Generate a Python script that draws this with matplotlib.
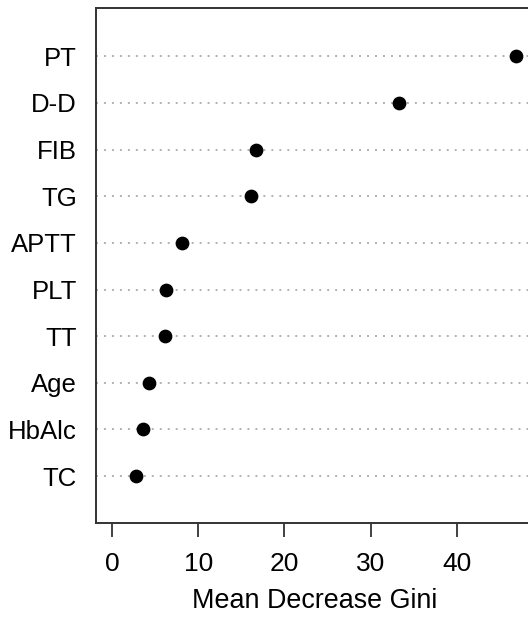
import matplotlib
matplotlib.use("Agg")
import matplotlib.pyplot as plt

plt.rcParams['font.family'] = ['Liberation Sans', 'DejaVu Sans']

variables = ["TC", "HbAlc", "Age", "TT", "PLT", "APTT", "TG", "FIB", "D-D", "PT"]
gini = [2.78, 3.53, 4.24, 6.08, 6.24, 8.08, 16.1, 16.66, 33.3, 46.9]
xticks = [0, 10, 20, 30, 40]

fig = plt.figure(figsize=(5.28, 6.18), dpi=100)
ax = fig.add_axes([0.1824, 0.1542, 1.0076 - 0.1824, 0.9866 - 0.1542])

ypos = list(range(1, len(variables) + 1))
for y in ypos:
    ax.axhline(y, color='#b0b0b0', lw=1.4, linestyle=(0, (1, 3.1)), zorder=1)
ax.plot(gini, ypos, 'o', color='black', markersize=8.9, zorder=3, linestyle='none')

xmax = max(gini)
ext = 0.04 * xmax
ax.set_xlim(-ext, xmax + ext)
ax.set_ylim(0.0, 11.03)

ax.set_yticks(ypos)
ax.set_yticklabels(variables, fontsize=18.5)
ax.tick_params(axis='y', length=0, pad=14)
ax.set_xticks(xticks)
ax.set_xticklabels([str(t) for t in xticks], fontsize=19)
ax.tick_params(axis='x', length=10, width=1.3, color='#333333', pad=11)
ax.set_xlabel("Mean Decrease Gini", fontsize=19.4, labelpad=9)

for s in ax.spines.values():
    s.set_linewidth(1.4)
    s.set_color('#333333')

fig.savefig("out.png", dpi=100)
